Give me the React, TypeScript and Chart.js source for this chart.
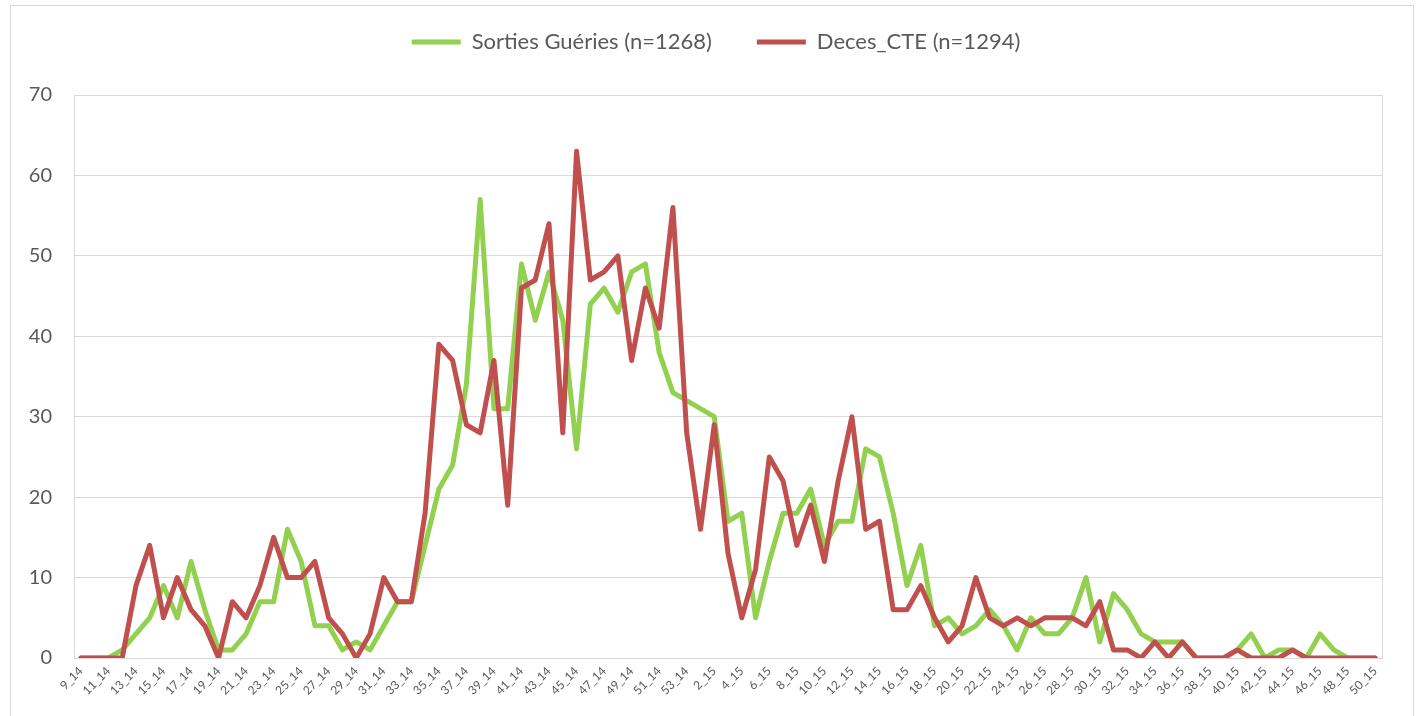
import React, { useEffect, useRef } from "react";
import { Chart, registerables } from "chart.js";

Chart.register(...registerables);

const categories = [
  "9_14", "10_14", "11_14", "12_14", "13_14", "14_14", "15_14", "16_14", "17_14", "18_14",
  "19_14", "20_14", "21_14", "22_14", "23_14", "24_14", "25_14", "26_14", "27_14", "28_14",
  "29_14", "30_14", "31_14", "32_14", "33_14", "34_14", "35_14", "36_14", "37_14", "38_14",
  "39_14", "40_14", "41_14", "42_14", "43_14", "44_14", "45_14", "46_14", "47_14", "48_14",
  "49_14", "50_14", "51_14", "52_14", "53_14", "1_15", "2_15", "3_15", "4_15", "5_15",
  "6_15", "7_15", "8_15", "9_15", "10_15", "11_15", "12_15", "13_15", "14_15", "15_15",
  "16_15", "17_15", "18_15", "19_15", "20_15", "21_15", "22_15", "23_15", "24_15", "25_15",
  "26_15", "27_15", "28_15", "29_15", "30_15", "31_15", "32_15", "33_15", "34_15", "35_15",
  "36_15", "37_15", "38_15", "39_15", "40_15", "41_15", "42_15", "43_15", "44_15", "45_15",
  "46_15", "47_15", "48_15", "49_15", "50_15",
];

const sortiesGueries = [
  0, 0, 0, 1, 3, 5, 9, 5, 12, 6,
  1, 1, 3, 7, 7, 16, 12, 4, 4, 1,
  2, 1, 4, 7, 7, 14, 21, 24, 34, 57,
  31, 31, 49, 42, 48, 42, 26, 44, 46, 43,
  48, 49, 38, 33, 32, 31, 30, 17, 18, 5,
  12, 18, 18, 21, 14, 17, 17, 26, 25, 18,
  9, 14, 4, 5, 3, 4, 6, 4, 1, 5,
  3, 3, 5, 10, 2, 8, 6, 3, 2, 2,
  2, 0, 0, 0, 1, 3, 0, 1, 1, 0,
  3, 1, 0, 0, 0,
];

const decesCTE = [
  0, 0, 0, 0, 9, 14, 5, 10, 6, 4,
  0, 7, 5, 9, 15, 10, 10, 12, 5, 3,
  0, 3, 10, 7, 7, 18, 39, 37, 29, 28,
  37, 19, 46, 47, 54, 28, 63, 47, 48, 50,
  37, 46, 41, 56, 28, 16, 29, 13, 5, 11,
  25, 22, 14, 19, 12, 22, 30, 16, 17, 6,
  6, 9, 5, 2, 4, 10, 5, 4, 5, 4,
  5, 5, 5, 4, 7, 1, 1, 0, 2, 0,
  2, 0, 0, 0, 1, 0, 0, 0, 1, 0,
  0, 0, 0, 0, 0,
];

const seriesLabels = ["Sorties Guéries (n=1268)", "Deces_CTE (n=1294)"];
const yTicks = [0, 10, 20, 30, 40, 50, 60, 70];

const GREEN = "#92D050";
const RED = "#C0504D";
const TEXT = "#595959";
const GRID = "#D9D9D9";
const FONT = "Lato, 'Open Sans', sans-serif";

const plotBorder = {
  id: "plotBorder",
  beforeDatasetsDraw(chart: any) {
    const { ctx, chartArea } = chart;
    ctx.save();
    ctx.strokeStyle = GRID;
    ctx.lineWidth = 1;
    ctx.strokeRect(
      Math.round(chartArea.left) + 0.5,
      Math.round(chartArea.top) + 0.5,
      Math.round(chartArea.right - chartArea.left),
      Math.round(chartArea.bottom - chartArea.top)
    );
    ctx.restore();
  },
};

// Moves the legend box so it sits where the reference legend sits.
const legendPlacement = {
  id: "legendPlacement",
  afterLayout(chart: any) {
    const l = chart.legend;
    if (!l) return;
    l.left += 25;
    l.right += 25;
    l.top -= 32;
    l.bottom -= 32;
  },
};

export default function App() {
  const ref = useRef<HTMLCanvasElement | null>(null);

  useEffect(() => {
    if (!ref.current) return;
    const chart = new Chart(ref.current, {
      type: "line",
      data: {
        labels: categories,
        datasets: [
          {
            label: seriesLabels[0],
            data: sortiesGueries,
            borderColor: GREEN,
            backgroundColor: GREEN,
            borderWidth: 5,
            pointRadius: 0,
            tension: 0,
            borderJoinStyle: "round",
            borderCapStyle: "round",
            order: 1,
          },
          {
            label: seriesLabels[1],
            data: decesCTE,
            borderColor: RED,
            backgroundColor: RED,
            borderWidth: 5,
            pointRadius: 0,
            tension: 0,
            borderJoinStyle: "round",
            borderCapStyle: "round",
            order: 0,
          },
        ],
      },
      options: {
        responsive: false,
        animation: false,
        layout: { padding: { left: 0, right: 38, top: 18, bottom: 0 } },
        plugins: {
          tooltip: { enabled: false },
          legend: {
            position: "top",
            labels: {
              color: TEXT,
              font: { family: FONT, size: 22 },
              boxWidth: 49,
              boxHeight: 5,
              padding: 45,
              sort: (a: any, b: any) => a.datasetIndex - b.datasetIndex,
              generateLabels: (c: any) =>
                Chart.defaults.plugins.legend.labels
                  .generateLabels(c)
                  .map((l: any) => ({ ...l, lineWidth: 0, fillStyle: l.strokeStyle })),
            },
          },
        },
        scales: {
          x: {
            type: "category",
            offset: true,
            grid: { display: false, drawTicks: false },
            border: { display: false },
            ticks: {
              autoSkip: false,
              minRotation: 45,
              maxRotation: 45,
              padding: 6,
              color: TEXT,
              font: { family: FONT, size: 12 },
              callback: (_v: any, i: number) => (i % 2 === 0 ? categories[i] : ""),
            },
            afterFit: (s: any) => {
              s.height = 58;
            },
          },
          y: {
            min: 0,
            max: 70,
            afterBuildTicks: (s: any) => {
              s.ticks = yTicks.map((v) => ({ value: v }));
            },
            grid: { color: GRID, lineWidth: 1, drawTicks: false },
            border: { display: false },
            ticks: {
              padding: 22,
              color: TEXT,
              font: { family: FONT, size: 20 },
            },
            afterFit: (s: any) => {
              s.width = 74;
            },
          },
        },
      },
      plugins: [plotBorder, legendPlacement],
    });
    return () => chart.destroy();
  }, []);

  return (
    <div>
      <div
        style={{
          position: "fixed",
          left: 10,
          top: 5,
          width: 1404,
          height: 711,
          border: `1px solid ${GRID}`,
          borderBottom: "none",
          boxSizing: "border-box",
          background: "#fff",
        }}
      />
      <canvas
        ref={ref}
        width={1420}
        height={716}
        style={{ position: "fixed", left: 0, top: 0, width: 1420, height: 716 }}
      />
    </div>
  );
}
